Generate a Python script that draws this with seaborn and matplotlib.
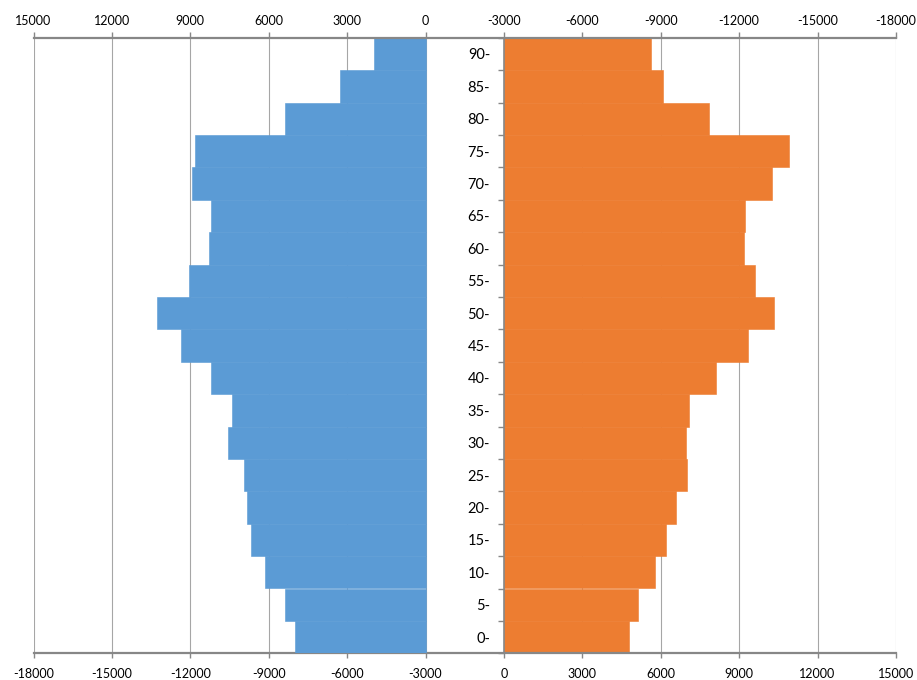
import numpy as np
import pandas as pd
import matplotlib
matplotlib.use("Agg")
import matplotlib.pyplot as plt
import seaborn as sns

# Age groups (lower bound of each 5-year band)
ages = [0, 5, 10, 15, 20, 25, 30, 35, 40, 45, 50, 55, 60, 65, 70, 75, 80, 85, 90]
# Left side (blue), measured on the reversed top axis
left_values = [5000, 5360, 6150, 6680, 6820, 6950, 7570, 7400, 8210, 9370,
               10290, 9040, 8290, 8200, 8950, 8830, 5370, 3280, 1970]
# Right side (orange), measured on the bottom axis
right_values = [4780, 5110, 5780, 6210, 6580, 7000, 6960, 7070, 8130, 9340,
                10340, 9600, 9170, 9220, 10270, 10890, 7840, 6080, 5610]
tick_values = list(range(-18000, 15001, 3000))

age_labels = [str(a) for a in ages]
order = age_labels[::-1]  # oldest band at the top
df = pd.DataFrame({"age": age_labels, "left": left_values, "right": right_values})

BLUE = "#5B9BD5"
ORANGE = "#ED7D31"
AXIS_GRAY = "#878787"
GRID_GRAY = "#A6A6A6"

sns.set_theme(style="white")
plt.rcParams["font.family"] = ["Lato", "DejaVu Sans"]

fig = plt.figure(figsize=(9.17, 6.8), dpi=100)
ax = fig.add_axes([33.5 / 917, (680 - 653.3) / 680, (896 - 33.5) / 917, (653.3 - 37.7) / 680])

# Right-hand bars on the primary (bottom) axis
sns.barplot(data=df, x="right", y="age", order=order, orient="h", color=ORANGE,
            width=1.0, linewidth=0.4, edgecolor=ORANGE, saturation=1, ax=ax)
ax.set_xlim(-18000, 15000)

# Left-hand bars on a reversed top axis
ax2 = ax.twiny()
sns.barplot(data=df, x="left", y="age", order=order, orient="h", color=BLUE,
            width=1.0, linewidth=0.4, edgecolor=BLUE, saturation=1, ax=ax2)
ax2.set_xlim(15000, -18000)
ax.set_ylim(len(order) - 0.5, -0.5)

for a in (ax, ax2):
    a.set_xlabel("")
    a.set_ylabel("")
    a.set_xticks(tick_values)
    a.set_xticklabels([str(v) for v in tick_values])

# Gridlines behind the bars
ax.set_axisbelow(True)
ax.grid(axis="x", color=GRID_GRAY, linewidth=0.8)
ax.grid(axis="y", visible=False)
ax2.grid(False)

# Spines
ax.spines["left"].set_position(("data", 0))
ax.spines["left"].set_color(AXIS_GRAY)
ax.spines["left"].set_linewidth(1.2)
ax.spines["right"].set_visible(False)
ax.spines["top"].set_visible(False)
ax.spines["bottom"].set_color(AXIS_GRAY)
ax.spines["bottom"].set_linewidth(1.6)
for s in ("left", "right", "bottom"):
    ax2.spines[s].set_visible(False)
ax2.spines["top"].set_color(AXIS_GRAY)
ax2.spines["top"].set_linewidth(1.6)

# Category labels next to the centre axis, ticks at the band boundaries
ax.set_yticks(range(len(order)))
ax.set_yticklabels([f"{lab}-" for lab in order])
ax.set_yticks(np.arange(-0.5, len(order), 1.0), minor=True)
ax.tick_params(axis="y", which="major", length=0, pad=10, labelsize=10.5,
               labelcolor="black")
ax.tick_params(axis="y", which="minor", left=True, direction="out", length=4,
               width=1, color=AXIS_GRAY)

ax.tick_params(axis="x", which="major", bottom=True, direction="out", length=3.5,
               width=1, color=AXIS_GRAY, labelsize=9, labelcolor="black", pad=7)
ax2.tick_params(axis="x", which="major", top=True, direction="out", length=4,
                width=1, color=AXIS_GRAY, labelsize=9, labelcolor="black", pad=4)

fig.savefig("out.png", dpi=100, facecolor="white")
